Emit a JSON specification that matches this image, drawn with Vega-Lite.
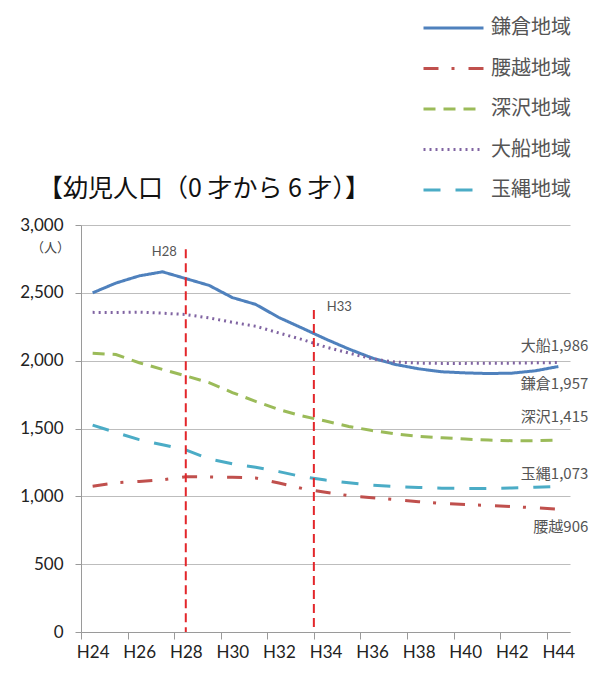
{
  "$schema": "https://vega.github.io/schema/vega-lite/v6.json",
  "autosize": {"type": "none"},
  "padding": {"left": 81, "top": 225, "right": 20, "bottom": 41},
  "width": 489,
  "height": 407,
  "background": "white",
  "config": {"view": {"stroke": null}, "font": "Noto Sans CJK JP"},
  "title": {"text": "【幼児人口（0 才から 6 才）】", "anchor": "start", "frame": "group", "fontSize": 25, "font": "Noto Sans CJK JP", "fontWeight": "normal", "color": "#111111", "dx": -43, "dy": 188},
  "datasets": {
    "series": [
      {"area": "鎌倉地域", "yr": 24, "v": 2500}, {"area": "鎌倉地域", "yr": 25, "v": 2572}, {"area": "鎌倉地域", "yr": 26, "v": 2625}, {"area": "鎌倉地域", "yr": 27, "v": 2655}, {"area": "鎌倉地域", "yr": 28, "v": 2605}, {"area": "鎌倉地域", "yr": 29, "v": 2555}, {"area": "鎌倉地域", "yr": 30, "v": 2465}, {"area": "鎌倉地域", "yr": 31, "v": 2415}, {"area": "鎌倉地域", "yr": 32, "v": 2318}, {"area": "鎌倉地域", "yr": 33, "v": 2240}, {"area": "鎌倉地域", "yr": 34, "v": 2160}, {"area": "鎌倉地域", "yr": 35, "v": 2086}, {"area": "鎌倉地域", "yr": 36, "v": 2020}, {"area": "鎌倉地域", "yr": 37, "v": 1972}, {"area": "鎌倉地域", "yr": 38, "v": 1940}, {"area": "鎌倉地域", "yr": 39, "v": 1918}, {"area": "鎌倉地域", "yr": 40, "v": 1910}, {"area": "鎌倉地域", "yr": 41, "v": 1905}, {"area": "鎌倉地域", "yr": 42, "v": 1908}, {"area": "鎌倉地域", "yr": 43, "v": 1925}, {"area": "鎌倉地域", "yr": 44, "v": 1957},
      {"area": "腰越地域", "yr": 24, "v": 1075}, {"area": "腰越地域", "yr": 25, "v": 1100}, {"area": "腰越地域", "yr": 26, "v": 1110}, {"area": "腰越地域", "yr": 27, "v": 1122}, {"area": "腰越地域", "yr": 28, "v": 1145}, {"area": "腰越地域", "yr": 29, "v": 1142}, {"area": "腰越地域", "yr": 30, "v": 1140}, {"area": "腰越地域", "yr": 31, "v": 1135}, {"area": "腰越地域", "yr": 32, "v": 1098}, {"area": "腰越地域", "yr": 33, "v": 1058}, {"area": "腰越地域", "yr": 34, "v": 1030}, {"area": "腰越地域", "yr": 35, "v": 1005}, {"area": "腰越地域", "yr": 36, "v": 990}, {"area": "腰越地域", "yr": 37, "v": 975}, {"area": "腰越地域", "yr": 38, "v": 960}, {"area": "腰越地域", "yr": 39, "v": 948}, {"area": "腰越地域", "yr": 40, "v": 940}, {"area": "腰越地域", "yr": 41, "v": 932}, {"area": "腰越地域", "yr": 42, "v": 925}, {"area": "腰越地域", "yr": 43, "v": 915}, {"area": "腰越地域", "yr": 44, "v": 906},
      {"area": "深沢地域", "yr": 24, "v": 2055}, {"area": "深沢地域", "yr": 25, "v": 2045}, {"area": "深沢地域", "yr": 26, "v": 1985}, {"area": "深沢地域", "yr": 27, "v": 1935}, {"area": "深沢地域", "yr": 28, "v": 1888}, {"area": "深沢地域", "yr": 29, "v": 1838}, {"area": "深沢地域", "yr": 30, "v": 1765}, {"area": "深沢地域", "yr": 31, "v": 1700}, {"area": "深沢地域", "yr": 32, "v": 1640}, {"area": "深沢地域", "yr": 33, "v": 1592}, {"area": "深沢地域", "yr": 34, "v": 1555}, {"area": "深沢地域", "yr": 35, "v": 1515}, {"area": "深沢地域", "yr": 36, "v": 1485}, {"area": "深沢地域", "yr": 37, "v": 1460}, {"area": "深沢地域", "yr": 38, "v": 1442}, {"area": "深沢地域", "yr": 39, "v": 1432}, {"area": "深沢地域", "yr": 40, "v": 1422}, {"area": "深沢地域", "yr": 41, "v": 1415}, {"area": "深沢地域", "yr": 42, "v": 1410}, {"area": "深沢地域", "yr": 43, "v": 1410}, {"area": "深沢地域", "yr": 44, "v": 1415},
      {"area": "大船地域", "yr": 24, "v": 2356}, {"area": "大船地域", "yr": 25, "v": 2355}, {"area": "大船地域", "yr": 26, "v": 2358}, {"area": "大船地域", "yr": 27, "v": 2350}, {"area": "大船地域", "yr": 28, "v": 2340}, {"area": "大船地域", "yr": 29, "v": 2315}, {"area": "大船地域", "yr": 30, "v": 2283}, {"area": "大船地域", "yr": 31, "v": 2254}, {"area": "大船地域", "yr": 32, "v": 2204}, {"area": "大船地域", "yr": 33, "v": 2156}, {"area": "大船地域", "yr": 34, "v": 2101}, {"area": "大船地域", "yr": 35, "v": 2057}, {"area": "大船地域", "yr": 36, "v": 2013}, {"area": "大船地域", "yr": 37, "v": 1990}, {"area": "大船地域", "yr": 38, "v": 1982}, {"area": "大船地域", "yr": 39, "v": 1980}, {"area": "大船地域", "yr": 40, "v": 1980}, {"area": "大船地域", "yr": 41, "v": 1981}, {"area": "大船地域", "yr": 42, "v": 1982}, {"area": "大船地域", "yr": 43, "v": 1984}, {"area": "大船地域", "yr": 44, "v": 1986},
      {"area": "玉縄地域", "yr": 24, "v": 1525}, {"area": "玉縄地域", "yr": 25, "v": 1470}, {"area": "玉縄地域", "yr": 26, "v": 1418}, {"area": "玉縄地域", "yr": 27, "v": 1380}, {"area": "玉縄地域", "yr": 28, "v": 1342}, {"area": "玉縄地域", "yr": 29, "v": 1275}, {"area": "玉縄地域", "yr": 30, "v": 1240}, {"area": "玉縄地域", "yr": 31, "v": 1215}, {"area": "玉縄地域", "yr": 32, "v": 1182}, {"area": "玉縄地域", "yr": 33, "v": 1145}, {"area": "玉縄地域", "yr": 34, "v": 1120}, {"area": "玉縄地域", "yr": 35, "v": 1100}, {"area": "玉縄地域", "yr": 36, "v": 1083}, {"area": "玉縄地域", "yr": 37, "v": 1072}, {"area": "玉縄地域", "yr": 38, "v": 1065}, {"area": "玉縄地域", "yr": 39, "v": 1060}, {"area": "玉縄地域", "yr": 40, "v": 1058}, {"area": "玉縄地域", "yr": 41, "v": 1058}, {"area": "玉縄地域", "yr": 42, "v": 1062}, {"area": "玉縄地域", "yr": 43, "v": 1067}, {"area": "玉縄地域", "yr": 44, "v": 1073}
    ],
    "marks": [
      {"label": "H28", "yr": 28, "v": 2822},
      {"label": "H33", "yr": 33.5, "v": 2373}
    ],
    "ends": [
      {"name": "大船", "yr": 44, "v": 1986, "label": "大船1,986"},
      {"name": "鎌倉", "yr": 44, "v": 1957, "label": "鎌倉1,957"},
      {"name": "深沢", "yr": 44, "v": 1415, "label": "深沢1,415"},
      {"name": "玉縄", "yr": 44, "v": 1073, "label": "玉縄1,073"},
      {"name": "腰越", "yr": 44, "v": 906, "label": "腰越906"}
    ]
  },
  "layer": [
    {
      "data": {"name": "series"},
      "mark": {"type": "line", "strokeWidth": 3},
      "encoding": {
        "x": {
          "field": "yr", "type": "quantitative", "title": null,
          "scale": {"domain": [23.5, 44.5], "nice": false, "zero": false},
          "axis": {
            "values": [23.5, 24.5, 25.5, 26.5, 27.5, 28.5, 29.5, 30.5, 31.5, 32.5, 33.5, 34.5, 35.5, 36.5, 37.5, 38.5, 39.5, 40.5, 41.5, 42.5, 43.5, 44.5],
            "labelExpr": "((datum.value + 0.5) % 2 == 0 && datum.value < 44) ? 'H' + (datum.value + 0.5) : ''",
            "labelOffset": 11.64, "labelOverlap": false, "labelFlush": false,
            "labelFont": "Lato", "labelFontSize": 17, "labelColor": "#222222", "labelPadding": 5,
            "tickSize": 7, "tickColor": "#9A9A9A", "domainColor": "#9A9A9A", "grid": false
          }
        },
        "y": {
          "field": "v", "type": "quantitative", "title": "（人）",
          "scale": {"domain": [0, 3000], "nice": false},
          "axis": {
            "values": [0, 500, 1000, 1500, 2000, 2500, 3000], "format": ",.0f",
            "labelFont": "Lato", "labelFontSize": 17, "labelColor": "#222222", "labelPadding": 12,
            "tickSize": 6, "tickColor": "#9A9A9A", "domainColor": "#9A9A9A",
            "grid": true, "gridColor": "#BDBDBD",
            "titleAngle": 0, "titleX": -31, "titleY": 22, "titleAlign": "center", "titleBaseline": "middle",
            "titleFontSize": 13, "titleFontWeight": "normal", "titleColor": "#444444", "titleFont": "Noto Sans CJK JP"
          }
        },
        "color": {
          "field": "area", "type": "nominal",
          "scale": {"domain": ["鎌倉地域", "腰越地域", "深沢地域", "大船地域", "玉縄地域"], "range": ["#4F81BD", "#C0504D", "#9BBB59", "#8064A2", "#4BACC6"]},
          "legend": {"orient": "none", "legendX": 341, "legendY": -207, "title": null, "symbolType": "stroke", "symbolSize": 3600, "symbolStrokeWidth": 3, "clipHeight": 20, "rowPadding": 20.5, "labelFontSize": 20, "labelColor": "#555555", "labelOffset": 6, "padding": 0, "symbolOffset": 0, "labelFont": "Noto Sans CJK JP"}
        },
        "strokeDash": {
          "field": "area", "type": "nominal",
          "scale": {"domain": ["鎌倉地域", "腰越地域", "深沢地域", "大船地域", "玉縄地域"], "range": [[1, 0], [15, 13, 3, 14], [12, 8], [2, 4], [17, 15]]},
          "legend": {"orient": "none", "legendX": 341, "legendY": -207, "title": null, "symbolType": "stroke", "symbolSize": 3600, "symbolStrokeWidth": 3, "clipHeight": 20, "rowPadding": 20.5, "labelFontSize": 20, "labelColor": "#555555", "labelOffset": 6, "padding": 0, "symbolOffset": 0, "labelFont": "Noto Sans CJK JP"}
        }
      }
    },
    {
      "data": {"name": "marks"},
      "mark": {"type": "rule", "color": "#E3262B", "strokeDash": [9, 5], "strokeWidth": 2},
      "encoding": {
        "x": {"field": "yr", "type": "quantitative"},
        "y": {"field": "v", "type": "quantitative"},
        "y2": {"datum": 0}
      }
    },
    {
      "data": {"name": "marks"},
      "transform": [{"filter": {"field": "label", "equal": "H28"}}],
      "mark": {"type": "text", "align": "right", "baseline": "middle", "dx": -9, "dy": 3, "fontSize": 13, "color": "#555555", "font": "Lato"},
      "encoding": {
        "x": {"field": "yr", "type": "quantitative"},
        "y": {"field": "v", "type": "quantitative"},
        "text": {"field": "label"}
      }
    },
    {
      "data": {"name": "marks"},
      "transform": [{"filter": {"field": "label", "equal": "H33"}}],
      "mark": {"type": "text", "align": "left", "baseline": "middle", "dx": 13, "dy": -3, "fontSize": 13, "color": "#555555", "font": "Lato"},
      "encoding": {
        "x": {"field": "yr", "type": "quantitative"},
        "y": {"field": "v", "type": "quantitative"},
        "text": {"field": "label"}
      }
    },
    {
      "data": {"name": "ends"},
      "transform": [{"filter": {"field": "name", "equal": "大船"}}],
      "mark": {"type": "text", "align": "right", "baseline": "middle", "dx": 30, "dy": -17, "fontSize": 15, "color": "#555555"},
      "encoding": {"x": {"field": "yr", "type": "quantitative"}, "y": {"field": "v", "type": "quantitative"}, "text": {"field": "label"}}
    },
    {
      "data": {"name": "ends"},
      "transform": [{"filter": {"field": "name", "equal": "鎌倉"}}],
      "mark": {"type": "text", "align": "right", "baseline": "middle", "dx": 30, "dy": 17, "fontSize": 15, "color": "#555555"},
      "encoding": {"x": {"field": "yr", "type": "quantitative"}, "y": {"field": "v", "type": "quantitative"}, "text": {"field": "label"}}
    },
    {
      "data": {"name": "ends"},
      "transform": [{"filter": {"field": "name", "equal": "深沢"}}],
      "mark": {"type": "text", "align": "right", "baseline": "middle", "dx": 30, "dy": -23, "fontSize": 15, "color": "#555555"},
      "encoding": {"x": {"field": "yr", "type": "quantitative"}, "y": {"field": "v", "type": "quantitative"}, "text": {"field": "label"}}
    },
    {
      "data": {"name": "ends"},
      "transform": [{"filter": {"field": "name", "equal": "玉縄"}}],
      "mark": {"type": "text", "align": "right", "baseline": "middle", "dx": 30, "dy": -12, "fontSize": 15, "color": "#555555"},
      "encoding": {"x": {"field": "yr", "type": "quantitative"}, "y": {"field": "v", "type": "quantitative"}, "text": {"field": "label"}}
    },
    {
      "data": {"name": "ends"},
      "transform": [{"filter": {"field": "name", "equal": "腰越"}}],
      "mark": {"type": "text", "align": "right", "baseline": "middle", "dx": 30, "dy": 18, "fontSize": 15, "color": "#555555"},
      "encoding": {"x": {"field": "yr", "type": "quantitative"}, "y": {"field": "v", "type": "quantitative"}, "text": {"field": "label"}}
    }
  ]
}
